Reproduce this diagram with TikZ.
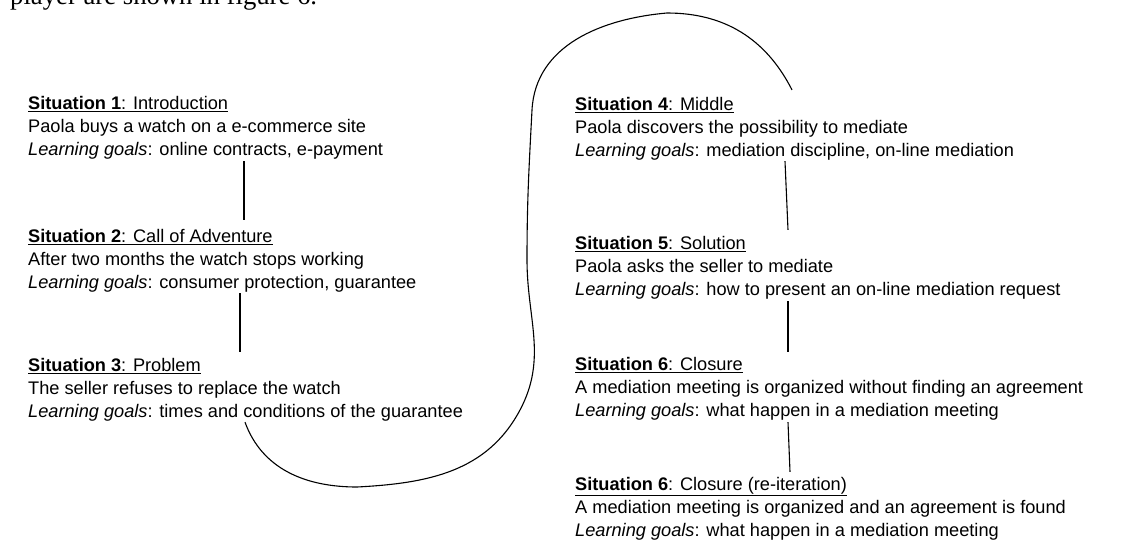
\documentclass[tikz,border=0pt]{standalone}
\usepackage{fontspec}
\setmainfont{Liberation Sans}
\newfontfamily\capfont{Liberation Serif}
\begin{document}
\begin{tikzpicture}[x=1pt,y=1pt,
  sit/.style={anchor=north west, inner sep=0pt, align=left, font=\fontsize{18.2}{23}\selectfont},
  link/.style={line width=1.1pt, black}]
\useasboundingbox (0,0) rectangle (1135,-541);
\node[anchor=base west, inner sep=0pt, font=\capfont\fontsize{26.7}{30}\selectfont] (cap) at (10,-4) {player are shown in figure 6.};
\node[sit] (s1) at (28,-92.9) {\strut\underline{\textbf{Situation 1}: Introduction}\\Paola buys a watch on a e-commerce site\\\textit{Learning goals}: online contracts, e-payment};
\node[sit] (s2) at (28,-225.9) {\strut\underline{\textbf{Situation 2}: Call of Adventure}\\After two months the watch stops working\\\textit{Learning goals}: consumer protection, guarantee};
\node[sit] (s3) at (28,-354.9) {\strut\underline{\textbf{Situation 3}: Problem}\\The seller refuses to replace the watch\\\textit{Learning goals}: times and conditions of the guarantee};
\node[sit] (s4) at (575,-93.9) {\strut\underline{\textbf{Situation 4}: Middle}\\Paola discovers the possibility to mediate\\\textit{Learning goals}: mediation discipline, on-line mediation};
\node[sit] (s5) at (575,-232.9) {\strut\underline{\textbf{Situation 5}: Solution}\\Paola asks the seller to mediate\\\textit{Learning goals}: how to present an on-line mediation request};
\node[sit] (s6) at (575,-353.9) {\strut\underline{\textbf{Situation 6}: Closure}\\A mediation meeting is organized without finding an agreement\\\textit{Learning goals}: what happen in a mediation meeting};
\node[sit] (s7) at (575,-473.9) {\strut\underline{\textbf{Situation 6}: Closure (re-iteration)}\\A mediation meeting is organized and an agreement is found\\\textit{Learning goals}: what happen in a mediation meeting};
\draw[link] ([shift={(216,-2)}]s1.south west) -- ([shift={(216,6)}]s2.north west);
\draw[link] ([shift={(212,-1)}]s2.south west) -- ([shift={(212,3)}]s3.north west);
\draw[link] ([shift={(217,-1)}]s3.south west) to[out=-70,in=180] (357,-487) to[out=3,in=-118] (520,-410) to[out=62,in=-90] (527,-260) to[out=90,in=-93] (532,-110) to[out=87,in=185] (667,-13) to[out=0,in=117] ([shift={(217,4)}]s4.north west);
\draw[link] ([shift={(210,-1)}]s4.south west) -- ([shift={(213,3)}]s5.north west);
\draw[link] ([shift={(213,-2)}]s5.south west) -- ([shift={(213,2)}]s6.north west);
\draw[link] ([shift={(213,-2)}]s6.south west) -- ([shift={(215,2)}]s7.north west);
\end{tikzpicture}
\end{document}
